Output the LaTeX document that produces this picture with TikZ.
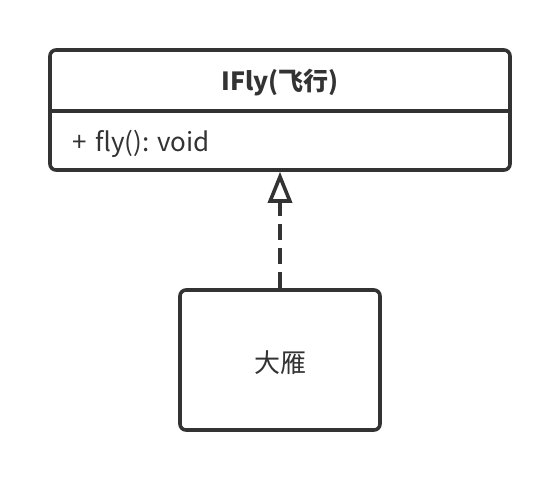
\documentclass[tikz,border=0pt]{standalone}
\usepackage{fontspec}
\setmainfont{Noto Sans CJK SC}
\usetikzlibrary{arrows.meta,positioning}
\definecolor{umlgray}{HTML}{333333}

\begin{document}
\begin{tikzpicture}[
  x=1pt,y=-1pt,
  font=\fontsize{26}{30}\selectfont,
  umlbox/.style={draw=umlgray,line width=3.6pt,rounded corners=6pt,fill=white,inner sep=0pt},
  label/.style={text=umlgray,inner sep=0pt},
  realize/.style={-{Triangle[open,length=31pt,width=24pt,line width=3.6pt]},
    line width=3.6pt,draw=umlgray,dash pattern=on 16pt off 8pt}
]
  \useasboundingbox (0,0) rectangle (560,480);
  % interface with its one operation
  \node[umlbox,minimum width=460pt,minimum height=120pt] (ifly) at (280,110) {};
  \draw[draw=umlgray,line width=3.6pt] (ifly.west |- 0,111) -- (ifly.east |- 0,111);
  \node[label,font=\fontsize{25}{30}\selectfont\bfseries] (iflyname) at (280,83) {IFly(飞行)};
  \node[label,anchor=west] (flyop) at (72,144) {+\,\,fly(): void};
  % class that realizes it
  \node[umlbox,minimum width=200pt,minimum height=140pt] (dayan) at (280,360) {};
  \node[label] (dayanname) at (280,363) {大雁};
  \draw[realize] (dayan.north) -- (ifly.south);
\end{tikzpicture}
\end{document}
